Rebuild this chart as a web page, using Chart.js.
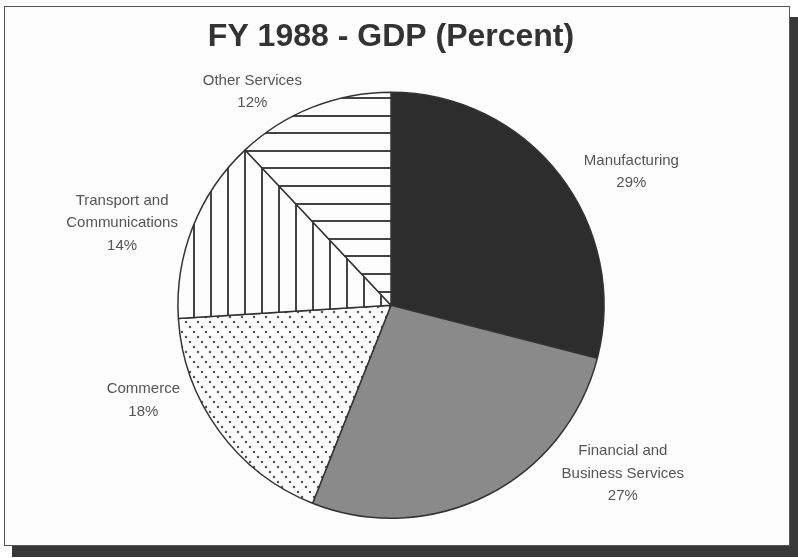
<!DOCTYPE html>
<html>
<head>
<meta charset="utf-8">
<title>FY 1988 - GDP (Percent)</title>
<script src="https://cdn.jsdelivr.net/npm/chart.js@4.4.1/dist/chart.umd.min.js"></script>
<style>
  html, body { margin: 0; padding: 0; background: #fff; }
  #frame {
    position: absolute; left: 4px; top: 6px; width: 784px; height: 538px;
    border: 1px solid #555; background: #fdfdfd;
    box-shadow: 8px 11px 0 0 #383838;
  }
  #pieChart { position: absolute; left: 0; top: 0; }
</style>
</head>
<body>
<div id="frame"></div>
<canvas id="pieChart" width="798" height="558"></canvas>
<script>
// slices go clockwise from 12 o'clock
const categories = [
  ['Manufacturing'],
  ['Financial and', 'Business Services'],
  ['Commerce'],
  ['Transport and', 'Communications'],
  ['Other Services']
];
const shares = [29, 27, 18, 14, 12];

// where each label sits: degrees clockwise from top, distance as a multiple of the radius
const labelAngle = [61, 126, 249, 287, 327];
const labelDist = [1.29, 1.345, 1.245, 1.32, 1.195];

function tile(w, h, draw) {
  var c = document.createElement('canvas');
  c.width = w; c.height = h;
  var g = c.getContext('2d');
  g.fillStyle = '#fdfdfd';
  g.fillRect(0, 0, w, h);
  draw(g);
  return g.createPattern(c, 'repeat');
}

// horizontal lines, ~17.6px apart
var hLines = tile(8, 88, function (g) {
  g.fillStyle = '#444';
  for (var k = 0; k < 5; k++) g.fillRect(0, Math.round(9 + k * 17.6) % 88, 8, 2);
});
// vertical lines, 17px apart
var vLines = tile(17, 8, function (g) {
  g.fillStyle = '#444';
  g.fillRect(6, 0, 2, 8);
});
// dotted rows running down to the right
var dots = tile(12, 15, function (g) {
  g.fillStyle = '#555';
  [[1, 1], [5, 6], [9, 11]].forEach(function (p) {
    g.beginPath();
    g.arc(p[0] + 1, p[1] + 1, 1.25, 0, Math.PI * 2);
    g.fill();
  });
});

const sliceLabels = {
  id: 'sliceLabels',
  afterDatasetsDraw(chart) {
    var ctx = chart.ctx;
    var meta = chart.getDatasetMeta(0);
    ctx.save();
    ctx.font = '15px "Liberation Sans", Arial, sans-serif';
    ctx.fillStyle = '#555';
    ctx.textAlign = 'center';
    ctx.textBaseline = 'middle';
    meta.data.forEach(function (arc, i) {
      var a = labelAngle[i] * Math.PI / 180;
      var d = labelDist[i] * arc.outerRadius;
      var cx = arc.x + Math.sin(a) * d;
      var cy = arc.y - Math.cos(a) * d;
      var lines = categories[i].concat([shares[i] + '%']);
      var lh = 22.5;
      var y0 = cy - (lines.length - 1) * lh / 2;
      lines.forEach(function (t, j) {
        ctx.fillText(t, cx, y0 + j * lh);
      });
    });
    ctx.restore();
  }
};

new Chart(document.getElementById('pieChart').getContext('2d'), {
  type: 'pie',
  data: {
    labels: categories,
    datasets: [{
      data: shares,
      backgroundColor: ['#2d2d2d', '#8a8a8a', dots, vLines, hLines],
      borderColor: '#333',
      borderWidth: 1.5,
      hoverOffset: 0
    }]
  },
  options: {
    responsive: false,
    animation: false,
    events: [],
    layout: { padding: { left: 0, right: 16, top: 0, bottom: 39 } },
    plugins: {
      legend: { display: false },
      tooltip: { enabled: false },
      title: {
        display: true,
        text: 'FY 1988 - GDP (Percent)',
        color: '#333',
        font: { family: '"Liberation Sans", Arial, sans-serif', size: 32, weight: 'bold' },
        padding: { top: 18, bottom: 35 }
      }
    }
  },
  plugins: [sliceLabels]
});
</script>
</body>
</html>
